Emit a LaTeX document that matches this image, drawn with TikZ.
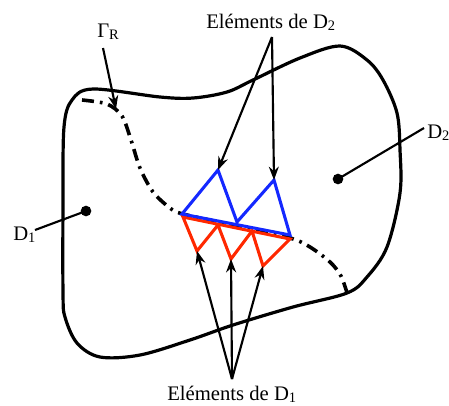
\documentclass[tikz,border=0pt]{standalone}
\usepackage{fontspec}
\setmainfont{Liberation Serif}
\usetikzlibrary{arrows.meta}
\definecolor{tblue}{RGB}{20,40,255}
\definecolor{tred}{RGB}{255,40,0}
\begin{document}
\begin{tikzpicture}[x=0.75pt,y=-0.75pt,
 bnd/.style={line width=2.4pt},
 gam/.style={line width=2.7pt, dash pattern=on 9pt off 4.5pt on 2pt off 4.5pt},
 elem/.style={line width=2.3pt},
 ptr/.style={line width=1.6pt, -{Stealth[length=10pt,width=7.5pt]}},
 lead/.style={line width=1.6pt},
 lbl/.style={font=\fontsize{15.5}{18}\selectfont, inner sep=0pt, anchor=base west},
 dot/.style={circle, fill, inner sep=0pt, minimum size=8pt}]
\useasboundingbox (0,0) rectangle (449,405);

% domain boundary
\draw[bnd] plot[smooth cycle, tension=0.55] coordinates {
 (93,89) (160,97) (193,98) (227,92) (253,80) (300,58) (340,46) (367,60)
 (383,80) (397,113) (400,150) (400,193) (387,247) (367,277) (347,293)
 (293,307) (233,325) (190,340) (140,355) (100,357) (77,343) (65,317)
 (63,293) (63,200) (64,127) (72,100)};

% interface Gamma_R
\draw[gam] plot[smooth, tension=0.5] coordinates {
 (82,100) (107,104) (122,116) (131,140) (140,168) (153,192) (170,208)
 (183,214) (237,226) (290,238) (310,247) (330,262) (341,276) (348,296)};

% red elements (D1)
\coordinate (r1) at (197,251);
\coordinate (r2) at (231,259);
\coordinate (r3) at (263,266);
\draw[elem, tred] (183,217) -- (r1) -- (218,225) -- (r2) -- (252,231) -- (r3) -- (290,239) -- cycle;

% blue elements (D2)
\coordinate (b1) at (218,170);
\coordinate (b2) at (274,180);
\draw[elem, tblue] (182,214) -- (b1) -- (237,222) -- (b2) -- (290,235) -- cycle;

% labels
\node[lbl] (gr) at (97,37) {Γ\textsubscript{R}};
\node[lbl] (e2) at (206,28) {Eléments de D\textsubscript{2}};
\node[lbl] (e1) at (167,400) {Eléments de D\textsubscript{1}};
\node[lbl] (d1) at (13,240) {D\textsubscript{1}};
\node[lbl] (d2) at (427,138) {D\textsubscript{2}};

% pointers
\coordinate (grs) at (103,48);
\coordinate (grt) at (116,109);
\draw[ptr] (grs) -- (grt);

\coordinate (e2s) at (272,37);
\draw[ptr] (e2s) -- (b1);
\draw[ptr] (e2s) -- (b2);

\coordinate (e1s) at (232,379);
\draw[ptr] (e1s) -- (r1);
\draw[ptr] (e1s) -- (r2);
\draw[ptr] (e1s) -- (r3);

\node[dot] (p1) at (86,211) {};
\node[dot] (p2) at (338,179) {};
\coordinate (d1e) at (35,230);
\coordinate (d2e) at (424,128);
\draw[lead] (d1e) -- (p1.center);
\draw[lead] (d2e) -- (p2.center);
\end{tikzpicture}
\end{document}
